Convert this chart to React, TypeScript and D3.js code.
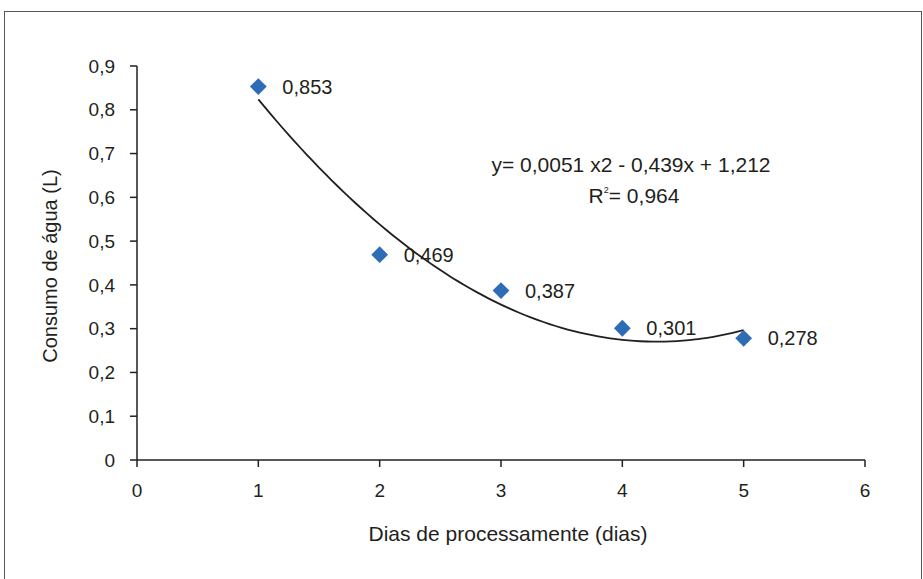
import React from 'react';
import * as d3 from 'd3';

const dias = [1, 2, 3, 4, 5];
const consumo = [0.853, 0.469, 0.387, 0.301, 0.278];
const pointLabels = ['0,853', '0,469', '0,387', '0,301', '0,278'];
const xTicks = [0, 1, 2, 3, 4, 5, 6];
const yTicks = [0, 0.1, 0.2, 0.3, 0.4, 0.5, 0.6, 0.7, 0.8, 0.9];

// least squares quadratic fit on the data (the excel trendline)
function fitQuadratic(xs: number[], ys: number[]) {
  const n = xs.length;
  const s = (f: (x: number, y: number) => number) => d3.sum(xs, (x, i) => f(x, ys[i]));
  const sx = s(x => x), sx2 = s(x => x * x), sx3 = s(x => x ** 3), sx4 = s(x => x ** 4);
  const sy = s((x, y) => y), sxy = s((x, y) => x * y), sx2y = s((x, y) => x * x * y);
  const A = [
    [n, sx, sx2, sy],
    [sx, sx2, sx3, sxy],
    [sx2, sx3, sx4, sx2y],
  ];
  for (let i = 0; i < 3; i++) {
    for (let k = i + 1; k < 3; k++) {
      const f = A[k][i] / A[i][i];
      for (let j = i; j < 4; j++) A[k][j] -= f * A[i][j];
    }
  }
  const c = [0, 0, 0];
  for (let i = 2; i >= 0; i--) {
    let v = A[i][3];
    for (let j = i + 1; j < 3; j++) v -= A[i][j] * c[j];
    c[i] = v / A[i][i];
  }
  return (x: number) => c[0] + c[1] * x + c[2] * x * x;
}

const font = 'Liberation Sans, Arial, sans-serif';
const ink = '#231f20';
const blue = '#2e6cb5';

export default function App() {
  const width = 923;
  const height = 579;
  const x = d3.scaleLinear().domain([0, 6]).range([137, 865]);
  const y = d3.scaleLinear().domain([0, 0.9]).range([460, 66]);

  const fit = fitQuadratic(dias, consumo);
  const curveXs = d3.range(1, 5.0001, 0.05);
  const line = d3.line<number>()
    .x(d => x(d))
    .y(d => y(fit(d)))
    .curve(d3.curveMonotoneX);

  const diamond = d3.symbol().type(d3.symbolDiamond2).size(180)();

  return (
    <svg width={width} height={height} style={{ position: 'absolute', left: 0, top: 0, background: '#fff' }}>
      <rect x={4.5} y={11.5} width={917} height={600} fill="none" stroke="#555" strokeWidth={1} />

      {/* y axis */}
      <line x1={x(0)} x2={x(0)} y1={y(0.9)} y2={y(0)} stroke={ink} strokeWidth={1.5} />
      {yTicks.map(t => (
        <g key={t}>
          <line x1={x(0) - 7} x2={x(0)} y1={y(t)} y2={y(t)} stroke={ink} strokeWidth={1.5} />
          <text x={x(0) - 22} y={y(t)} dy="0.35em" textAnchor="end" fontFamily={font} fontSize={19} fill={ink}>
            {t === 0 ? '0' : d3.format('.1f')(t).replace('.', ',')}
          </text>
        </g>
      ))}

      {/* x axis */}
      <line x1={x(0)} x2={x(6)} y1={y(0)} y2={y(0)} stroke={ink} strokeWidth={1.5} />
      {xTicks.map(t => (
        <g key={t}>
          <line x1={x(t)} x2={x(t)} y1={y(0)} y2={y(0) + 7} stroke={ink} strokeWidth={1.5} />
          <text x={x(t)} y={y(0) + 37} textAnchor="middle" fontFamily={font} fontSize={19} fill={ink}>
            {t}
          </text>
        </g>
      ))}

      <text x={508} y={541} textAnchor="middle" fontFamily={font} fontSize={21} fill={ink}>
        Dias de processamente (dias)
      </text>
      <text transform={`translate(57,266) rotate(-90)`} textAnchor="middle" fontFamily={font} fontSize={20} fill={ink}>
        Consumo de água (L)
      </text>

      {/* trendline */}
      <path d={line(curveXs) || ''} fill="none" stroke={ink} strokeWidth={1.8} />

      {/* points */}
      {dias.map((d, i) => (
        <g key={d}>
          <path d={diamond || ''} transform={`translate(${x(d)},${y(consumo[i])})`} fill={blue} />
          <text x={x(d) + 24} y={y(consumo[i])} dy="0.35em" fontFamily={font} fontSize={20} fill={ink}>
            {pointLabels[i]}
          </text>
        </g>
      ))}

      <text x={631} y={172} textAnchor="middle" fontFamily={font} fontSize={21} fill={ink}>
        y= 0,0051 x2 - 0,439x + 1,212
      </text>
      <text x={634} y={203} textAnchor="middle" fontFamily={font} fontSize={21} fill={ink}>
        R<tspan dy={-10} fontSize={9}>2</tspan><tspan dy={10}>= 0,964</tspan>
      </text>
    </svg>
  );
}
